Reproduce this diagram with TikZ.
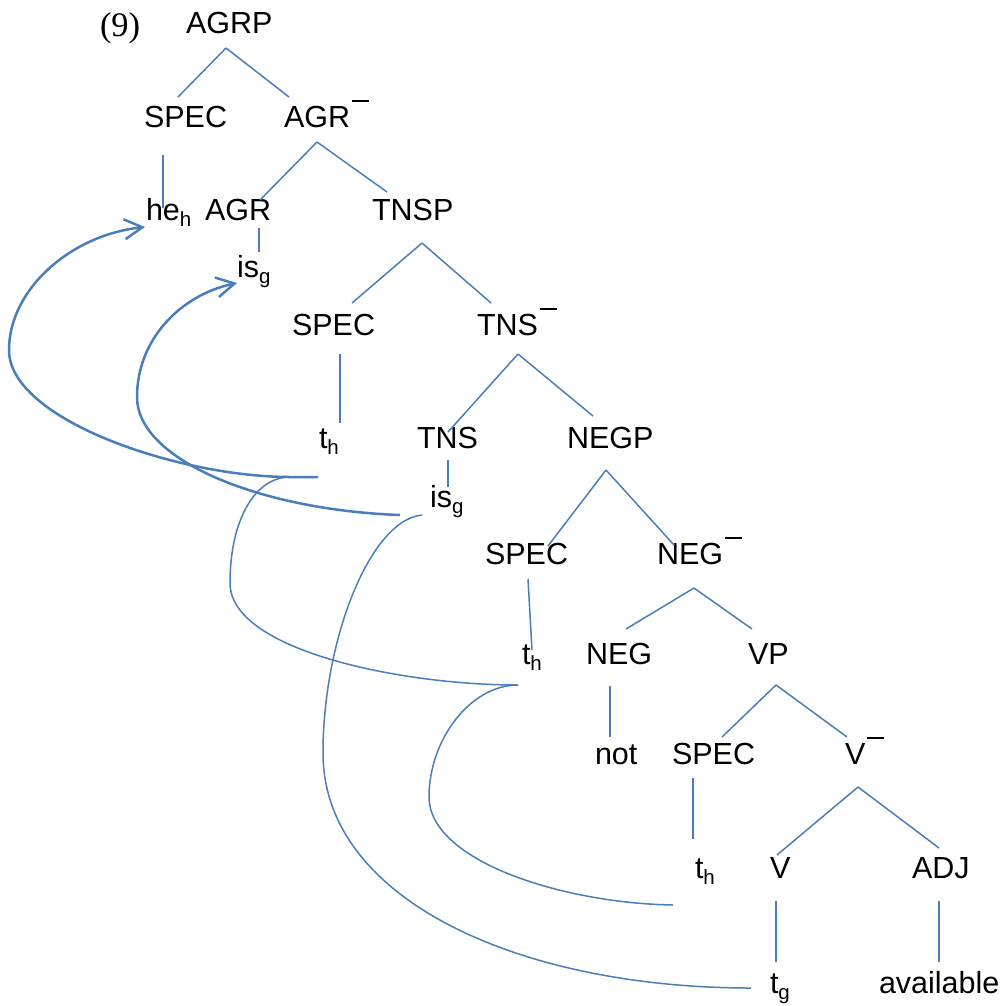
\documentclass[tikz,border=0pt]{standalone}
\usepackage{fontspec}
\setmainfont{Liberation Sans}
\newfontfamily\exnumfont{Liberation Serif}
\usetikzlibrary{arrows.meta}
\definecolor{linkblue}{RGB}{74,126,187}
% lowered index letter (he_h, is_g, t_h ...)
\newcommand\lowsub[1]{\raisebox{-6pt}{\fontsize{20.5}{20}\selectfont #1}}
% bar-level mark written after a category label
\newcommand\barmark{\kern2pt\rule[25.5pt]{17pt}{2pt}}
% tree branch between two labels, each end given as an offset from the label's base west
\newcommand\branchline[4]{\draw[branch] ([shift={#2}]#1.base west) -- ([shift={#4}]#3.base west);}
\begin{document}
\begin{tikzpicture}[x=1pt,y=-1pt,
  lbl/.style={inner sep=0pt,outer sep=0pt,anchor=base west,font=\fontsize{30.5}{36}\selectfont},
  branch/.style={draw=linkblue,line width=1.5pt},
  move/.style={draw=linkblue,line width=2.5pt,-{Straight Barb[length=18pt,width=20pt]}},
  chain/.style={draw=linkblue,line width=1.5pt}]
\useasboundingbox (0,0) rectangle (1006,1005);

% example number
\node[lbl,font=\fontsize{34.5}{36}\exnumfont] (exno) at (100,36) {(9)};

% labels
\node[lbl] (agrp)   at (186,33)  {AGRP};
\node[lbl] (spec1)  at (144,127) {SPEC};
\node[lbl] (agrbar) at (284,127) {AGR\barmark};
\node[lbl] (he)     at (146,220) {he\lowsub{h}};
\node[lbl] (agr)    at (205,220) {AGR};
\node[lbl] (tnsp)   at (372,220) {TNSP};
\node[lbl] (is1)    at (237,277) {is\lowsub{g}};
\node[lbl] (spec2)  at (292,335) {SPEC};
\node[lbl] (tnsbar) at (477,335) {TNS\barmark};
\node[lbl] (th1)    at (319,448) {t\lowsub{h}};
\node[lbl] (tns)    at (417,448) {TNS};
\node[lbl] (negp)   at (567,448) {NEGP};
\node[lbl] (is2)    at (430,507) {is\lowsub{g}};
\node[lbl] (spec3)  at (485,564) {SPEC};
\node[lbl] (negbar) at (657,564) {NEG\barmark};
\node[lbl] (th2)    at (522,664) {t\lowsub{h}};
\node[lbl] (neg)    at (586,664) {NEG};
\node[lbl] (vp)     at (748,664) {VP};
\node[lbl] (not)    at (595,764) {not};
\node[lbl] (spec4)  at (672,764) {SPEC};
\node[lbl] (vbar)   at (845,764) {V\barmark};
\node[lbl] (th3)    at (695,878) {t\lowsub{h}};
\node[lbl] (v)      at (770,878) {V};
\node[lbl] (adj)    at (912,878) {ADJ};
\node[lbl] (tg)     at (770,993) {t\lowsub{g}};
\node[lbl] (avail)  at (879,993) {available};

% branches
\branchline{agrp}{(40,15)}{spec1}{(34,-30)}
\branchline{agrp}{(40,15)}{agrbar}{(5,-30)}
\branchline{spec1}{(19,28)}{he}{(17,-12)}
\branchline{agrbar}{(33,15)}{agr}{(55,-20)}
\branchline{agrbar}{(33,15)}{tnsp}{(15,-28)}
\branchline{agr}{(54,8)}{is1}{(22,-25)}
\branchline{tnsp}{(50,23)}{spec2}{(60,-32)}
\branchline{tnsp}{(50,23)}{tnsbar}{(14,-32)}
\branchline{spec2}{(48,19)}{th1}{(21,-25)}
\branchline{tnsbar}{(41,19)}{tns}{(31,-16)}
\branchline{tnsbar}{(41,19)}{negp}{(26,-32)}
\branchline{tns}{(31,12)}{is2}{(18,-20)}
\branchline{negp}{(39,22)}{spec3}{(63,-18)}
\branchline{negp}{(39,22)}{negbar}{(17,-19)}
\branchline{spec3}{(43,15)}{th2}{(10,-14)}
\branchline{negbar}{(37,24)}{neg}{(40,-35)}
\branchline{negbar}{(37,24)}{vp}{(4,-35)}
\branchline{neg}{(24,22)}{not}{(15,-27)}
\branchline{vp}{(28,21)}{spec4}{(50,-27)}
\branchline{vp}{(28,21)}{vbar}{(2,-27)}
\branchline{spec4}{(21,14)}{th3}{(-2,-39)}
\branchline{vbar}{(13,23)}{v}{(7,-23)}
\branchline{vbar}{(13,23)}{adj}{(27,-30)}
\branchline{v}{(6,23)}{tg}{(6,-31)}
\branchline{adj}{(27,23)}{avail}{(60,-31)}

% ends of the movement links
\coordinate (th1-out)  at ([shift={(-1,29)}]th1.base west);
\coordinate (th1-hook) at ([shift={(-29,29)}]th1.base west);
\coordinate (he-in)    at ([shift={(-1,7)}]he.base west);
\coordinate (is2-out)  at ([shift={(-30,8)}]is2.base west);
\coordinate (is2-hook) at ([shift={(-8,8)}]is2.base west);
\coordinate (is1-in)   at ([shift={(0,6)}]is1.base west);
\coordinate (th2-out)  at ([shift={(-4,21)}]th2.base west);
\coordinate (th3-out)  at ([shift={(-22,27)}]th3.base west);
\coordinate (tg-out)   at ([shift={(-19,-5)}]tg.base west);

% movement arrows
\draw[move] (th1-out) -- ++(-28,0) .. controls (180,477) and (9,420) .. (9,350)
  .. controls (9,290) and (70,235) .. (he-in);
\draw[move] (is2-out) .. controls (260,510) and (137,460) .. (137,397)
  .. controls (137,340) and (180,295) .. (is1-in);

% trace chains
\draw[chain] (th1-hook) .. controls (255,477) and (230,520) .. (230,583)
  .. controls (230,650) and (400,685) .. (th2-out);
\draw[chain] (th2-out) .. controls (470,685) and (429,740) .. (429,797)
  .. controls (429,860) and (560,903) .. (th3-out);
\draw[chain] (is2-hook) .. controls (370,520) and (323,640) .. (323,753)
  .. controls (323,900) and (520,988) .. (tg-out);
\end{tikzpicture}
\end{document}
